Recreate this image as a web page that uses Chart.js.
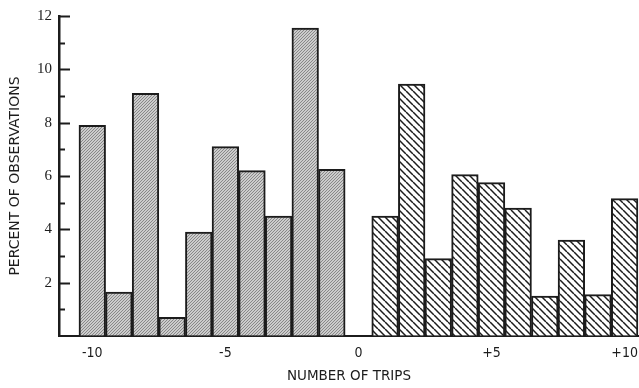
<!DOCTYPE html>
<html>
<head>
<meta charset="utf-8">
<script src="https://cdn.jsdelivr.net/npm/chart.js@4.4.0/dist/chart.umd.min.js"></script>
<style>
  html, body { margin: 0; padding: 0; background: #fff; }
  #wrap { width: 639px; height: 388px; }
</style>
</head>
<body>
<div id="wrap"><canvas id="grafica"></canvas></div>
<script>
// values (percent of observations)
const tripsLeft = [-10, -9, -8, -7, -6, -5, -4, -3, -2, -1];
const percentLeft = [7.9, 1.65, 9.1, 0.7, 3.9, 7.1, 6.2, 4.5, 11.55, 6.25];
const tripsRight = [1, 2, 3, 4, 5, 6, 7, 8, 9, 10];
const percentRight = [4.5, 9.45, 2.9, 6.05, 5.75, 4.8, 1.5, 3.6, 1.55, 5.15];
const xTicks = [-10, -5, 0, 5, 10];
const yTicks = [0, 2, 4, 6, 8, 10, 12];

const ink = '#1c1c1c';

// stippled gray fill for the negative side
function makeDots() {
  const c = document.createElement('canvas');
  c.width = 3; c.height = 3;
  const g = c.getContext('2d');
  g.fillStyle = '#cccccc';
  g.fillRect(0, 0, 3, 3);
  g.fillStyle = '#888888';
  g.fillRect(0, 0, 1, 1);
  g.fillRect(1, 2, 1, 1);
  g.fillRect(2, 1, 1, 1);
  return g.createPattern(c, 'repeat');
}

// diagonal hatching for the positive side
function makeHatch() {
  const s = 7;
  const c = document.createElement('canvas');
  c.width = s; c.height = s;
  const g = c.getContext('2d');
  g.fillStyle = '#fff';
  g.fillRect(0, 0, s, s);
  g.strokeStyle = ink;
  g.lineWidth = 1.5;
  for (let k = -1; k <= 1; k++) {
    g.beginPath();
    g.moveTo(k * s, 0);
    g.lineTo(k * s + s, s);
    g.stroke();
  }
  return g.createPattern(c, 'repeat');
}

const dots = makeDots();
const hatch = makeHatch();

const points = [];
const fills = [];
tripsLeft.forEach((t, i) => { points.push({ x: t, y: percentLeft[i] }); fills.push(dots); });
tripsRight.forEach((t, i) => { points.push({ x: t, y: percentRight[i] }); fills.push(hatch); });

// short tick marks on the inside of the y axis (long at even, short at odd values)
const innerTicks = {
  id: 'innerTicks',
  afterDraw(chart) {
    const y = chart.scales.y;
    const ctx = chart.ctx;
    const x0 = chart.chartArea.left;
    ctx.save();
    ctx.strokeStyle = ink;
    ctx.lineWidth = 2;
    for (let v = 1; v <= 12; v++) {
      const py = Math.round(y.getPixelForValue(v)) + 0.5;
      const len = v % 2 === 0 ? 11 : 6;
      ctx.beginPath();
      ctx.moveTo(x0, py);
      ctx.lineTo(x0 + len, py);
      ctx.stroke();
    }
    ctx.restore();
  }
};

const graph = document.getElementById('grafica');
const myChart = new Chart(graph, {
  type: 'bar',
  data: {
    datasets: [{
      data: points,
      backgroundColor: fills,
      borderColor: ink,
      borderWidth: 2,
      borderSkipped: 'start',
      barPercentage: 1,
      categoryPercentage: 1
    }]
  },
  options: {
    responsive: true,
    maintainAspectRatio: false,
    animation: false,
    layout: { padding: { top: 14, right: 0, left: 0, bottom: 0 } },
    plugins: {
      legend: { display: false },
      tooltip: { enabled: false }
    },
    scales: {
      x: {
        type: 'linear',
        offset: false,
        min: -11.25,
        max: 10.54,
        afterBuildTicks: (axis) => { axis.ticks = xTicks.map(v => ({ value: v })); },
        afterFit: (axis) => {
          axis.height = 52;
          axis.paddingLeft = 0;
          axis.paddingRight = 0;
        },
        ticks: {
          autoSkip: false,
          maxRotation: 0,
          padding: 9,
          color: ink,
          font: { family: 'DejaVu Sans Condensed', size: 14 },
          callback: (v) => (v > 0 ? '+' + v : String(v))
        },
        grid: { display: true, drawOnChartArea: false, drawTicks: false, color: 'rgba(0,0,0,0)' },
        border: { display: true, color: ink, width: 2 },
        title: {
          display: true,
          text: 'NUMBER OF TRIPS',
          color: ink,
          font: { family: 'DejaVu Sans', size: 13.5 },
          padding: { top: 0, bottom: 3 }
        }
      },
      y: {
        min: 0,
        max: 12,
        afterBuildTicks: (axis) => { axis.ticks = yTicks.map(v => ({ value: v })); },
        afterFit: (axis) => { axis.width = 59; },
        ticks: {
          padding: 7,
          color: ink,
          font: { family: 'Liberation Serif', size: 15 },
          callback: (v) => (v === 0 ? '' : String(v))
        },
        grid: { display: true, drawOnChartArea: false, drawTicks: false, color: 'rgba(0,0,0,0)' },
        border: { display: true, color: ink, width: 2.5 },
        title: {
          display: true,
          text: 'PERCENT OF OBSERVATIONS',
          color: ink,
          font: { family: 'DejaVu Sans', size: 14 },
          padding: { top: 7, bottom: 0 }
        }
      }
    }
  },
  plugins: [innerTicks]
});
</script>
</body>
</html>
